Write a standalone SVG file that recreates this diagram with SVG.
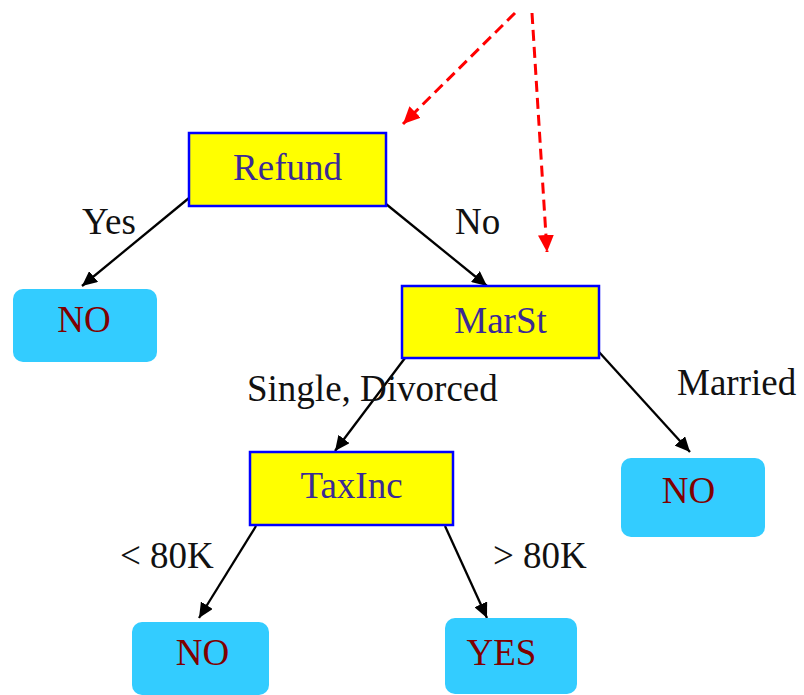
<svg xmlns="http://www.w3.org/2000/svg" width="804" height="695" viewBox="0 0 804 695">
<style>
.txt{font-family:"Liberation Serif","DejaVu Serif",serif;font-size:37px}
.inner rect{fill:#ffff00;stroke:#0000ff;stroke-width:2.5}
.inner text{fill:#3b2a96;text-anchor:middle}
.leaf rect{fill:#33ccff}
.leaf text{fill:#800000;text-anchor:middle}
.lbl{fill:#111}
.edge{stroke:#000;stroke-width:2.3;fill:none;marker-end:url(#ah)}
.hint{stroke:#ff0000;stroke-width:3;fill:none;stroke-dasharray:11 6;marker-end:url(#rh)}
</style>
<defs>
<marker id="ah" markerUnits="userSpaceOnUse" markerWidth="16" markerHeight="14" refX="15" refY="7" orient="auto">
<path d="M0,0 L15,7 L0,14 z" fill="#000"/>
</marker>
<marker id="rh" markerUnits="userSpaceOnUse" markerWidth="18" markerHeight="16" refX="17" refY="8" orient="auto">
<path d="M0,0 L17,8 L0,16 z" fill="#ff0000"/>
</marker>
</defs>
<g id="connectors">
<line class="hint" x1="515" y1="13" x2="403" y2="124"/>
<line class="hint" x1="532" y1="13" x2="547" y2="252"/>
<line class="edge" x1="189" y1="198" x2="82" y2="286"/>
<line class="edge" x1="386" y1="204" x2="487" y2="286"/>
<line class="edge" x1="405" y1="358" x2="335" y2="451"/>
<line class="edge" x1="599" y1="352" x2="690" y2="452"/>
<line class="edge" x1="256" y1="526" x2="199" y2="618"/>
<line class="edge" x1="445" y1="526" x2="487" y2="618"/>
</g>
<g id="edge-labels" class="txt lbl">
<text x="82" y="234">Yes</text>
<text x="455" y="234">No</text>
<text x="247" y="401">Single, Divorced</text>
<text x="677" y="395">Married</text>
<text x="120" y="568">&lt; 80K</text>
<text x="493" y="568">&gt; 80K</text>
</g>
<g id="refund" class="inner txt">
<rect x="189" y="133" width="197" height="73"/>
<text x="287.5" y="180">Refund</text>
</g>
<g id="marst" class="inner txt">
<rect x="402" y="286" width="197" height="72"/>
<text x="500.5" y="333">MarSt</text>
</g>
<g id="taxinc" class="inner txt">
<rect x="250" y="452" width="203" height="73"/>
<text x="351.5" y="498">TaxInc</text>
</g>
<g id="leaf-no-1" class="leaf txt">
<rect x="13" y="289" width="144" height="73" rx="10"/>
<text x="84" y="332">NO</text>
</g>
<g id="leaf-no-2" class="leaf txt">
<rect x="621" y="458" width="144" height="79" rx="10"/>
<text x="688.5" y="503">NO</text>
</g>
<g id="leaf-no-3" class="leaf txt">
<rect x="132" y="622" width="137" height="73" rx="10"/>
<text x="202.5" y="665">NO</text>
</g>
<g id="leaf-yes" class="leaf txt">
<rect x="445" y="618" width="132" height="76" rx="10"/>
<text x="501.5" y="665">YES</text>
</g>
</svg>
